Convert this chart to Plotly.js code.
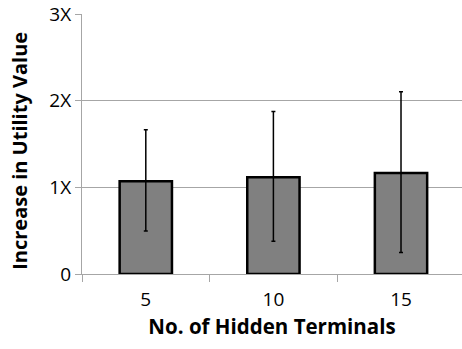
<!DOCTYPE html>
<html>
<head>
<meta charset="utf-8">
<script src="https://cdn.plot.ly/plotly-3.0.1.min.js"></script>
<style>html,body{margin:0;padding:0;background:#fff;}#chart{width:462px;height:349px;}</style>
</head>
<body>
<div id="chart"></div>
<script>
const categories = ["5", "10", "15"];
const meanValues = [1.07, 1.115, 1.165];
const errorUpper = [1.665, 1.876, 2.102];
const errorLower = [0.495, 0.378, 0.248];
const yTickValues = [0, 1, 2, 3];
const yTickLabels = ["0", "1X", "2X", "3X"];
const xTitle = "No. of Hidden Terminals";
const yTitle = "Increase in Utility Value";

const plusErr = meanValues.map((v, i) => errorUpper[i] - v);
const minusErr = meanValues.map((v, i) => v - errorLower[i]);

const trace = {
  type: "bar",
  x: categories,
  y: meanValues,
  marker: { color: "#808080", line: { color: "#000000", width: 2.5 } },
  error_y: {
    type: "data", symmetric: false,
    array: plusErr, arrayminus: minusErr,
    color: "#000000", thickness: 1.5, width: 2
  },
  hoverinfo: "skip"
};

const font = "'Open Sans', 'Noto Sans', sans-serif";
const layout = {
  width: 462, height: 349,
  margin: { l: 82, r: 0, t: 14, b: 74.5, pad: 0 },
  paper_bgcolor: "#ffffff", plot_bgcolor: "#ffffff",
  bargap: 0.59,
  showlegend: false,
  font: { family: font, color: "#000000", size: 19 },
  xaxis: {
    type: "category",
    range: [-0.5, 2.478],
    showline: true, linecolor: "#a6a6a6", linewidth: 1,
    ticks: "outside", tickson: "boundaries", ticklen: 7, tickcolor: "#a6a6a6",
    showgrid: false, zeroline: false,
    tickfont: { size: 19, family: font },
    ticklabelstandoff: 8,
    title: { text: "<b>" + xTitle + "</b>", font: { size: 20.5, family: font }, standoff: 6 }
  },
  yaxis: {
    range: [0, 3],
    tickvals: yTickValues, ticktext: yTickLabels,
    showline: true, linecolor: "#a6a6a6", linewidth: 1,
    ticks: "outside", ticklen: 6, tickcolor: "#a6a6a6",
    showgrid: true, gridcolor: "#a6a6a6", gridwidth: 1,
    zeroline: false,
    tickfont: { size: 19, family: font }
  },
  annotations: [{
    text: "<b>" + yTitle + "</b>",
    xref: "paper", yref: "paper",
    x: -0.163, y: 0.474,
    xanchor: "center", yanchor: "middle",
    textangle: -90, showarrow: false,
    font: { size: 20, family: font, color: "#000000" }
  }]
};

Plotly.newPlot("chart", [trace], layout, { displayModeBar: false, staticPlot: true });
</script>
</body>
</html>
